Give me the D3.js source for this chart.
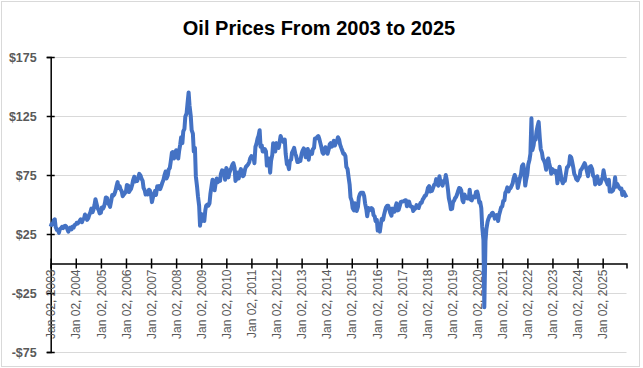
<!DOCTYPE html>
<html>
<head>
<meta charset="utf-8">
<script src="https://cdn.jsdelivr.net/npm/d3@7"></script>
<style>
  body { margin: 0; background: #fff; }
  text { font-family: "Liberation Sans", Arial, sans-serif; }
</style>
</head>
<body>
<div id="chart"></div>
<script>
// WTI price, two points a month (1st and 15th)
var p2003 = [31.2, 33.5, 33.5, 36.5, 37.5, 31, 28.5, 28.5, 26, 29, 30, 31, 30, 31.5, 32, 31.5, 29, 27, 29.5, 30.5, 29, 31, 30.5, 32.5];
var p2004 = [33, 34.5, 34, 35, 36.5, 37.5, 35, 37.5, 38, 41.5, 40, 37, 38.5, 41, 43.5, 46.5, 43.5, 45.5, 50, 54.5, 50, 47, 45, 42.5];
var p2005 = [43, 47.5, 46.5, 48, 51.5, 56, 55.5, 51, 50, 48, 53.5, 58, 57.5, 58.5, 61.5, 65, 69, 64, 65.5, 63, 61, 57, 58.5, 59.5];
var p2006 = [61, 66.5, 66, 60.5, 62, 63, 66.5, 70.5, 73.5, 69.5, 71, 70, 73.5, 76, 74.5, 72, 70, 64, 62, 58.5, 59, 58.5, 62.5, 62];
var p2007 = [58, 52, 57, 59, 61.5, 58, 65.5, 63.5, 65.5, 63, 66, 68.5, 71, 74.5, 78, 72, 74.5, 79.5, 81, 86, 94, 94.5, 89, 91.5];
var p2008 = [96, 91, 89, 95.5, 101, 107, 102, 112, 114, 124.5, 127, 135, 145, 134, 125, 113, 110, 95, 98, 74, 65, 57, 49, 32];
var p2009 = [42, 36, 41.5, 36, 45, 49, 50, 49, 51, 59, 66, 71, 69, 62, 69, 72, 69, 71, 70, 76, 79, 78.5, 77, 71];
var p2010 = [81, 79, 73, 77, 79, 81, 84, 85, 81, 70, 72, 77, 72, 77, 80, 75, 74, 75, 80, 82, 83, 84, 86, 89];
var p2011 = [91, 90, 90, 85, 99, 101, 106, 108, 113, 99, 100, 95, 95, 97, 95, 83, 89, 89, 77, 87, 92, 102, 100, 95];
var p2012 = [102, 100, 98, 102, 108, 106, 104, 103, 105, 93, 84, 84, 80, 87, 88, 94, 96, 98, 93, 91, 86, 86, 88, 87];
var p2013 = [93, 95.5, 97.5, 96, 90, 93.5, 97, 88, 95, 94, 93, 97, 98, 106, 106, 107, 108, 106, 102, 99, 94, 93, 96, 98.5];
var p2014 = [95, 93, 97, 101, 102, 99, 100, 104, 100, 102, 104, 107, 105, 101, 98, 96, 93, 93, 91, 82, 80, 74, 67, 56];
var p2015 = [53, 47, 45, 51, 49.5, 44.5, 48, 56, 59, 60, 60, 60, 57, 51, 46, 40, 47, 45, 46, 47, 46, 41, 40, 36];
var p2016 = [37, 28, 32, 27, 34, 38, 37, 41, 45, 47.5, 49, 49, 46, 43, 40.5, 46.5, 45, 44, 48.5, 51, 45, 45.5, 49, 52];
var p2017 = [52.5, 52.5, 53, 53.5, 53.5, 48.5, 50.5, 52.5, 49, 48, 48, 44.5, 46, 46.5, 49.5, 47.5, 47, 49.5, 51.5, 51.5, 54.5, 55.5, 57.5, 57.5];
var p2018 = [60.5, 64, 65.5, 61, 61.5, 61.5, 64.5, 66.5, 67.5, 71.5, 67, 66, 74, 69, 68, 66, 70, 69, 75, 71, 63, 55.5, 51, 46];
var p2019 = [46.5, 52, 53.5, 55.5, 56.5, 58.5, 62, 64, 63.5, 62, 53.5, 52, 58.5, 56.5, 55.5, 55, 55, 62.5, 54, 53.5, 56.5, 57, 56, 60.5];
var p2020 = [61, 58, 51.5, 52, 47, 31, 20, -37, 19, 29, 35.5, 38, 40.5, 40.5, 42.5, 43, 41, 38, 39, 41, 36, 41, 44.5, 47.5];
var p2021 = [48.5, 53, 53.5, 60, 61.5, 64.5, 61, 63, 64, 65.5, 68, 72, 75, 72.5, 71, 64, 69, 72.5, 76, 82.5, 84, 80, 66, 71];
var p2022 = [76, 84, 88, 93, 123, 96, 100, 106, 105, 112, 117, 120, 106, 97, 94, 89, 87, 85, 79.5, 86, 89, 85, 81, 76];
var p2023 = [80, 79, 77, 78.5, 77, 68, 76, 82, 76, 71, 68, 70, 70, 75, 81.5, 82, 84, 91, 90, 86.5, 81, 76, 74, 71.5];
var p2024 = [70.5, 72.5, 74, 79, 80, 81.5, 83.5, 85, 82, 79, 74, 79, 82, 82.5, 80, 74.5, 73, 67, 70, 74, 69, 67.5, 68, 70.5];
var p2025 = [73, 79, 73, 71, 69, 67, 71, 61, 62, 61, 62, 64.5, 73, 65, 67.5, 66, 64, 63, 63.5, 58, 61, 59.5, 57.5, 56];

var years = [2003, 2004, 2005, 2006, 2007, 2008, 2009, 2010, 2011, 2012, 2013, 2014,
             2015, 2016, 2017, 2018, 2019, 2020, 2021, 2022, 2023, 2024, 2025];
var yearPrices = [p2003, p2004, p2005, p2006, p2007, p2008, p2009, p2010, p2011, p2012, p2013, p2014,
                  p2015, p2016, p2017, p2018, p2019, p2020, p2021, p2022, p2023, p2024, p2025];

// axis ticks
var yTicks = [-75, -25, 25, 75, 125, 175];
var xTickYears = years;
var title = "Oil Prices From 2003 to 2025";

var W = 643, H = 368;
var margin = {top: 57, right: 16.5, bottom: 16, left: 50.7};

// flatten into {date, value}
var data = [];
years.forEach(function(yr, k) {
  yearPrices[k].forEach(function(v, i) {
    data.push({date: new Date(yr, Math.floor(i / 2), i % 2 ? 15 : 2), value: v});
  });
});

var svg = d3.select("#chart")
  .append("svg")
  .attr("width", W)
  .attr("height", H);

// chart border
svg.append("rect")
  .attr("x", 1.5).attr("y", 1.5)
  .attr("width", 638).attr("height", 365)
  .attr("fill", "#fff")
  .attr("stroke", "#d9d9d9");

var x = d3.scaleTime()
  .domain(d3.extent(data, function(d) { return d.date; }))
  .range([margin.left, W - margin.right]);

var y = d3.scaleLinear()
  .domain([-75, 175])
  .range([352, margin.top]);

// title
svg.append("text")
  .attr("x", 319)
  .attr("y", 35)
  .attr("text-anchor", "middle")
  .style("font-size", "20px")
  .style("font-weight", "bold")
  .style("fill", "#000")
  .text(title);

// gridlines
svg.append("g")
  .selectAll("line")
  .data(yTicks)
  .enter()
  .append("line")
    .attr("x1", margin.left)
    .attr("x2", W - margin.right)
    .attr("y1", function(d) { return Math.round(y(d)) + 0.5; })
    .attr("y2", function(d) { return Math.round(y(d)) + 0.5; })
    .attr("stroke", "#d9d9d9")
    .attr("stroke-width", 1);

// y axis
var yAxis = svg.append("g")
  .attr("transform", "translate(" + margin.left + ",0)")
  .call(d3.axisLeft(y)
    .tickValues(yTicks)
    .tickSizeOuter(0)
    .tickSize(4)
    .tickPadding(10)
    .tickFormat(function(d) { return d < 0 ? "-$" + (-d) : "$" + d; }));
yAxis.select(".domain").attr("stroke", "#000").attr("stroke-width", 1.5);
yAxis.selectAll(".tick line").attr("x1", 4).attr("x2", -4).attr("stroke", "#000").attr("stroke-width", 1.5);
yAxis.selectAll(".tick text")
  .style("font-size", "12.5px")
  .style("font-weight", "bold")
  .style("fill", "#595959")
  .style("font-family", "'Liberation Sans', Arial, sans-serif");

// x axis at zero
var xAxis = svg.append("g")
  .attr("transform", "translate(0," + y(0) + ")")
  .call(d3.axisBottom(x)
    .tickValues(xTickYears.map(function(yr) { return new Date(yr, 0, 2); }))
    .tickSizeOuter(0)
    .tickSize(5)
    .tickFormat(d3.timeFormat("%b %d, %Y")));
xAxis.select(".domain").attr("stroke", "#000").attr("stroke-width", 1.5);
xAxis.selectAll(".tick line").attr("y1", -5).attr("y2", 5).attr("stroke", "#000").attr("stroke-width", 1.5);
xAxis.selectAll(".tick text")
  .attr("transform", "rotate(-90)")
  .attr("text-anchor", "end")
  .attr("x", -6)
  .attr("y", 0)
  .attr("dy", "0.35em")
  .style("font-size", "12px")
  .style("fill", "#595959")
  .style("font-family", "'Liberation Sans', Arial, sans-serif");

// the price line
var line = d3.line()
  .x(function(d) { return x(d.date); })
  .y(function(d) { return y(d.value); });

svg.append("path")
  .datum(data)
  .attr("d", line)
  .attr("fill", "none")
  .attr("stroke", "#4472C4")
  .attr("stroke-width", 4)
  .attr("stroke-linejoin", "round");
</script>
</body>
</html>
